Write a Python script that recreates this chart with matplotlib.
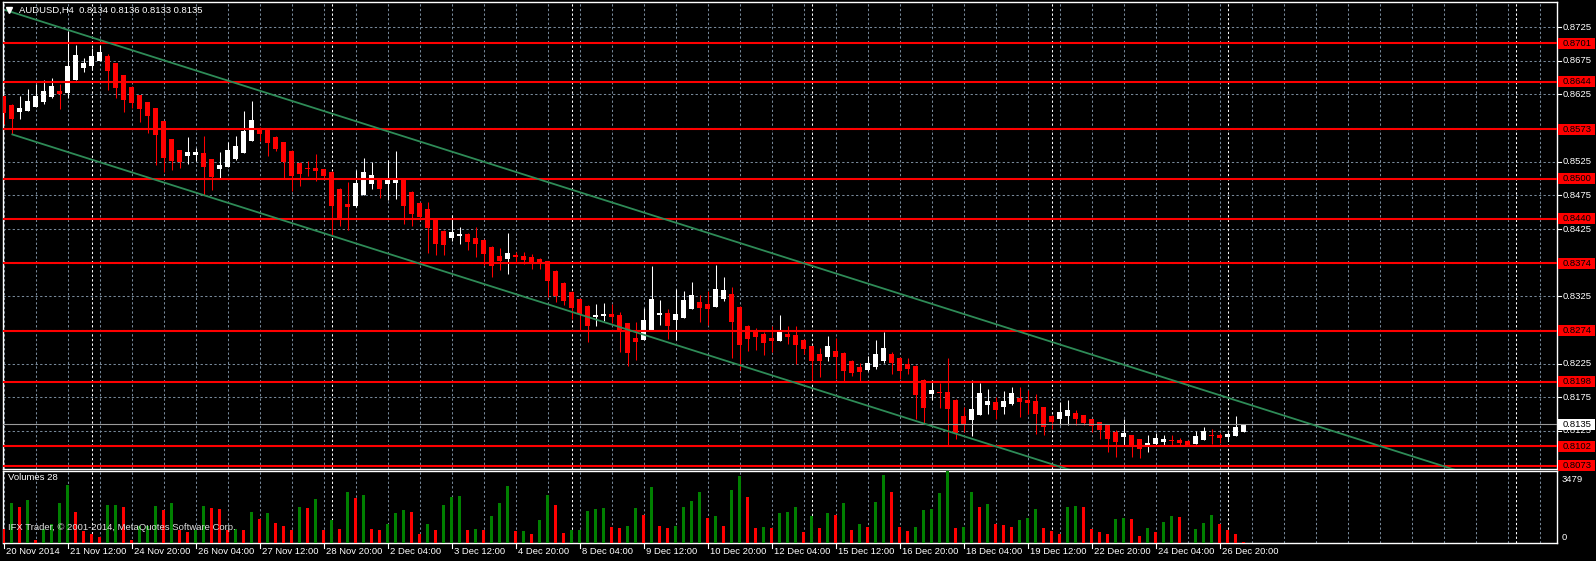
import numpy as np
import matplotlib
matplotlib.use("Agg")
import matplotlib.pyplot as plt
from matplotlib.patches import Rectangle

# ---------------- data ----------------
symbol = "AUDUSD,H4"
header_ohlc = ["0.8134", "0.8136", "0.8133", "0.8135"]

opens = [0.8622, 0.8610, 0.8599, 0.8601, 0.8607, 0.8614, 0.8621, 0.8630, 0.8627, 0.8647,
         0.8664, 0.8667, 0.8675, 0.8682, 0.8672, 0.8654, 0.8636, 0.8624, 0.8614, 0.8605,
         0.8586, 0.8559, 0.8543, 0.8534, 0.8535, 0.8538, 0.8529, 0.8515, 0.8517, 0.8529,
         0.8538, 0.8556, 0.8572, 0.8572, 0.8562, 0.8554, 0.8541, 0.8523, 0.8516, 0.8516,
         0.8514, 0.8510, 0.8485, 0.8462, 0.8459, 0.8476, 0.8492, 0.8498, 0.8492, 0.8494,
         0.8500, 0.8480, 0.8464, 0.8455, 0.8439, 0.8422, 0.8412, 0.8415, 0.8418, 0.8412,
         0.8409, 0.8399, 0.8385, 0.8381, 0.8387, 0.8385, 0.8384, 0.8381, 0.8378, 0.8363,
         0.8345, 0.8332, 0.8321, 0.8311, 0.8295, 0.8296, 0.8299, 0.8297, 0.8286, 0.8263,
         0.8260, 0.8275, 0.8297, 0.8300, 0.8290, 0.8293, 0.8306, 0.8317, 0.8314, 0.8309,
         0.8321, 0.8329, 0.8309, 0.8281, 0.8274, 0.8269, 0.8263, 0.8259, 0.8269, 0.8268,
         0.8260, 0.8251, 0.8240, 0.8235, 0.8244, 0.8241, 0.8229, 0.8220, 0.8216, 0.8220,
         0.8229, 0.8239, 0.8234, 0.8225, 0.8222, 0.8201, 0.8180, 0.8183, 0.8183, 0.8171,
         0.8147, 0.8142, 0.8149, 0.8164, 0.8168, 0.8160, 0.8165, 0.8174, 0.8171, 0.8170,
         0.8161, 0.8147, 0.8143, 0.8147, 0.8152, 0.8149, 0.8143, 0.8138, 0.8134, 0.8124,
         0.8116, 0.8119, 0.8113, 0.8104, 0.8106, 0.8109, 0.8112, 0.8112, 0.8110, 0.8106,
         0.8112, 0.8119, 0.8119, 0.8116, 0.8118, 0.8124]
closes = [0.8598, 0.8589, 0.8605, 0.8615, 0.8623, 0.8630, 0.8638, 0.8626, 0.8667, 0.8684,
          0.8672, 0.8682, 0.8688, 0.8660, 0.8635, 0.8617, 0.8612, 0.8604, 0.8593, 0.8565,
          0.8531, 0.8526, 0.8525, 0.8540, 0.8540, 0.8517, 0.8503, 0.8520, 0.8543, 0.8549,
          0.8571, 0.8587, 0.8566, 0.8553, 0.8544, 0.8525, 0.8504, 0.8507, 0.8514, 0.8511,
          0.8504, 0.8459, 0.8442, 0.8458, 0.8494, 0.8510, 0.8505, 0.8485, 0.8498, 0.8498,
          0.8459, 0.8448, 0.8443, 0.8427, 0.8403, 0.8402, 0.8421, 0.8418, 0.8406, 0.8403,
          0.8388, 0.8370, 0.8378, 0.8390, 0.8384, 0.8379, 0.8376, 0.8373, 0.8348, 0.8326,
          0.8318, 0.8308, 0.8299, 0.8281, 0.8297, 0.8299, 0.8295, 0.8275, 0.8241, 0.8257,
          0.8290, 0.8321, 0.8301, 0.8281, 0.8299, 0.8320, 0.8327, 0.8308, 0.8306, 0.8336,
          0.8335, 0.8287, 0.8253, 0.8262, 0.8265, 0.8256, 0.8259, 0.8275, 0.8265, 0.8253,
          0.8247, 0.8229, 0.8229, 0.8251, 0.8235, 0.8214, 0.8211, 0.8213, 0.8226, 0.8239,
          0.8248, 0.8226, 0.8214, 0.8217, 0.8179, 0.8159, 0.8186, 0.8182, 0.8158, 0.8122,
          0.8136, 0.8158, 0.8182, 0.8170, 0.8156, 0.8170, 0.8181, 0.8168, 0.8167, 0.8150,
          0.8131, 0.8138, 0.8153, 0.8156, 0.8143, 0.8137, 0.8132, 0.8127, 0.8113, 0.8109,
          0.8122, 0.8104, 0.8098, 0.8107, 0.8115, 0.8113, 0.8110, 0.8107, 0.8104, 0.8118,
          0.8125, 0.8118, 0.8115, 0.8120, 0.8131, 0.8135]
highs = [0.8623, 0.8611, 0.8623, 0.8633, 0.8641, 0.8647, 0.8650, 0.8641, 0.8719, 0.8699,
         0.8679, 0.8694, 0.8699, 0.8685, 0.8672, 0.8654, 0.8638, 0.8624, 0.8614, 0.8605,
         0.8586, 0.8559, 0.8543, 0.8562, 0.8546, 0.8564, 0.8529, 0.8540, 0.8555, 0.8564,
         0.8601, 0.8615, 0.8577, 0.8573, 0.8563, 0.8555, 0.8542, 0.8524, 0.8526, 0.8537,
         0.8515, 0.8511, 0.8486, 0.8495, 0.8513, 0.8531, 0.8525, 0.8499, 0.8528, 0.8541,
         0.8501, 0.8481, 0.8465, 0.8465, 0.8440, 0.8423, 0.8446, 0.8428, 0.8419, 0.8428,
         0.8410, 0.8400, 0.8397, 0.8419, 0.8391, 0.8391, 0.8388, 0.8382, 0.8378, 0.8364,
         0.8346, 0.8333, 0.8322, 0.8312, 0.8314, 0.8315, 0.8314, 0.8302, 0.8286, 0.8287,
         0.8308, 0.8370, 0.8320, 0.8306, 0.8336, 0.8333, 0.8346, 0.8327, 0.8333, 0.8372,
         0.8354, 0.8339, 0.8310, 0.8282, 0.8278, 0.8272, 0.8281, 0.8297, 0.8281, 0.8281,
         0.8261, 0.8252, 0.8248, 0.8266, 0.8263, 0.8242, 0.8230, 0.8226, 0.8237, 0.8260,
         0.8272, 0.8242, 0.8235, 0.8234, 0.8223, 0.8202, 0.8201, 0.8196, 0.8234, 0.8172,
         0.8161, 0.8201, 0.8196, 0.8188, 0.8176, 0.8185, 0.8190, 0.8190, 0.8186, 0.8180,
         0.8161, 0.8148, 0.8168, 0.8171, 0.8156, 0.8149, 0.8143, 0.8139, 0.8134, 0.8127,
         0.8143, 0.8119, 0.8113, 0.8119, 0.8122, 0.8119, 0.8119, 0.8115, 0.8111, 0.8125,
         0.8131, 0.8128, 0.8122, 0.8123, 0.8147, 0.8136]
lows = [0.8581, 0.8567, 0.8589, 0.8600, 0.8606, 0.8611, 0.8620, 0.8604, 0.8620, 0.8646,
        0.8658, 0.8661, 0.8674, 0.8632, 0.8620, 0.8599, 0.8605, 0.8584, 0.8568, 0.8520,
        0.8510, 0.8513, 0.8516, 0.8522, 0.8526, 0.8476, 0.8483, 0.8501, 0.8517, 0.8528,
        0.8538, 0.8556, 0.8556, 0.8534, 0.8541, 0.8501, 0.8482, 0.8489, 0.8504, 0.8497,
        0.8501, 0.8416, 0.8430, 0.8424, 0.8458, 0.8475, 0.8485, 0.8471, 0.8468, 0.8470,
        0.8433, 0.8430, 0.8439, 0.8390, 0.8387, 0.8387, 0.8407, 0.8403, 0.8394, 0.8384,
        0.8372, 0.8354, 0.8364, 0.8358, 0.8376, 0.8373, 0.8366, 0.8366, 0.8324, 0.8317,
        0.8312, 0.8292, 0.8275, 0.8257, 0.8281, 0.8289, 0.8286, 0.8243, 0.8222, 0.8231,
        0.8260, 0.8275, 0.8283, 0.8262, 0.8260, 0.8293, 0.8306, 0.8287, 0.8283, 0.8309,
        0.8318, 0.8234, 0.8216, 0.8244, 0.8245, 0.8238, 0.8243, 0.8259, 0.8254, 0.8225,
        0.8240, 0.8201, 0.8205, 0.8229, 0.8202, 0.8199, 0.8206, 0.8199, 0.8214, 0.8217,
        0.8226, 0.8210, 0.8202, 0.8210, 0.8143, 0.8136, 0.8171, 0.8159, 0.8104, 0.8113,
        0.8124, 0.8118, 0.8149, 0.8150, 0.8143, 0.8150, 0.8164, 0.8146, 0.8150, 0.8121,
        0.8119, 0.8128, 0.8134, 0.8134, 0.8134, 0.8134, 0.8124, 0.8113, 0.8094, 0.8086,
        0.8104, 0.8086, 0.8085, 0.8094, 0.8103, 0.8103, 0.8104, 0.8104, 0.8103, 0.8105,
        0.8111, 0.8106, 0.8107, 0.8110, 0.8117, 0.8124]
volumes = [699, 1918, 1723, 2081, 163, 699, 910, 1918, 2813, 1496,
           600, 450, 300, 1837, 1850, 1723, 130, 813, 830, 1789,
           1593, 1918, 618, 537, 650, 1789, 1691, 1626, 650, 660,
           640, 1496, 1138, 1431, 943, 845, 618, 1723, 1700, 2114,
           650, 1106, 699, 2472, 2195, 2325, 699, 650, 910, 1463,
           1593, 1496, 423, 910, 650, 1837, 2244, 2276, 650, 660,
           618, 1301, 1918, 2764, 569, 585, 423, 1106, 2325, 1837,
           504, 618, 650, 1528, 1626, 1675, 797, 748, 845, 1675,
           1333, 2699, 845, 748, 845, 1723, 2016, 2455, 1187, 1284,
           845, 2553, 3250, 2211, 748, 797, 748, 1431, 1480, 1723,
           553, 1284, 748, 1431, 1333, 1918, 650, 894, 797, 1967,
           3300, 2455, 797, 602, 797, 1577, 1626, 2406, 3479, 748,
           797, 2455, 1723, 1870, 900, 850, 780, 1089, 1187, 1626,
           748, 602, 455, 1723, 1772, 1723, 699, 553, 455, 1138,
           1187, 1138, 358, 748, 553, 992, 1284, 1236, 16, 699,
           943, 1333, 894, 650, 455, 28]
volume_title = "Volumes 28"
volume_max = 3479
copyright_text = "IFX Trader, \u00a9 2001-2014, MetaQuotes Software Corp."

levels = [0.8701, 0.8644, 0.8573, 0.8500, 0.8440, 0.8374, 0.8274, 0.8198, 0.8102, 0.8073]
current_price = 0.8135
price_ticks = [0.8075, 0.8125, 0.8175, 0.8225, 0.8275, 0.8325, 0.8375, 0.8425,
               0.8475, 0.8525, 0.8575, 0.8625, 0.8675, 0.8725]

time_labels = ["20 Nov 2014", "21 Nov 12:00", "24 Nov 20:00", "26 Nov 04:00", "27 Nov 12:00",
               "28 Nov 20:00", "2 Dec 04:00", "3 Dec 12:00", "4 Dec 20:00", "8 Dec 04:00",
               "9 Dec 12:00", "10 Dec 20:00", "12 Dec 04:00", "15 Dec 12:00", "16 Dec 20:00",
               "18 Dec 04:00", "19 Dec 12:00", "22 Dec 20:00", "24 Dec 04:00", "26 Dec 20:00"]
time_label_bars = [0, 8, 16, 24, 32, 40, 48, 56, 64, 72, 80, 88, 96, 104, 112, 120, 128, 136, 144, 152]
week_separator_bars = [11, 41, 71, 101, 131, 153, 189]

# equidistant channel (anchor bar, price) + slope per bar
channel_upper_anchor = (0.19, 0.87506)
channel_lower_anchor = (1.0, 0.85660)
channel_slope = -0.000377

# ---------------- layout ----------------
W, H, DPI = 1596, 561, 100
PX_LEFT, PX_RIGHT = 3, 1557
MAIN_TOP, MAIN_BOT = 2, 469
VOL_TOP, VOL_BOT = 471, 543
BAR_PX = 8.0
FIRST_BAR_PX = 3.5
PRICE_TOP, PRICE_BOT = 0.87624, 0.80685

GRID_C = "#778899"
RED = "#ff0000"
GREEN_VOL = "#008000"
CHAN_C = "#2e8b57"
FONT = "Liberation Sans"
FS = 6.8

fig = plt.figure(figsize=(W / DPI, H / DPI), dpi=DPI, facecolor="black")


def fx(px):
    return px / W


def fy(py):
    return 1 - py / H


def add_ax(top, bot):
    ax = fig.add_axes([fx(PX_LEFT), fy(bot), (PX_RIGHT - PX_LEFT) / W, (bot - top) / H])
    ax.set_facecolor("black")
    ax.set_xlim((PX_LEFT - FIRST_BAR_PX) / BAR_PX, (PX_RIGHT - FIRST_BAR_PX) / BAR_PX)
    ax.set_xticks([])
    ax.set_yticks([])
    for s in ax.spines.values():
        s.set_color("white")
        s.set_linewidth(1.0)
    return ax


ax = add_ax(MAIN_TOP, MAIN_BOT)
axv = add_ax(VOL_TOP, VOL_BOT)
ax.set_ylim(PRICE_BOT, PRICE_TOP)
axv.set_ylim(0, volume_max)

n = len(opens)
x = np.arange(n)
o = np.array(opens); c = np.array(closes); h = np.array(highs); l = np.array(lows)
v = np.array(volumes)

dash = (0, (2.2, 2.2))
xmax_bar = (PX_RIGHT - FIRST_BAR_PX) / BAR_PX
grid_bars = np.arange(0, xmax_bar, 4)
for a in (ax, axv):
    for gb in grid_bars:
        if gb in week_separator_bars:
            continue
        a.axvline(gb, color=GRID_C, lw=0.75, linestyle=dash, zorder=1)
    for sb in week_separator_bars:
        a.axvline(sb, color="white", lw=0.75, linestyle=dash, zorder=1.5)
for pt in price_ticks:
    ax.axhline(pt, color=GRID_C, lw=0.75, linestyle=dash, zorder=1)
axv.axhline(0, color=GRID_C, lw=0.75, linestyle=dash, zorder=1)

# candles
bull = c > o
col = np.where(bull, "white", RED)
ax.vlines(x, l, h, colors=col, lw=0.75, zorder=3)
body_bot = np.minimum(o, c)
body_h = np.maximum(np.abs(c - o), 0.00016)
ax.bar(x, body_h, bottom=body_bot, width=0.62, color=col, linewidth=0, zorder=3.1)

# volumes: green when greater than previous bar
vcol = [RED] + [GREEN_VOL if v[i] > v[i - 1] else RED for i in range(1, n)]
axv.bar(x, v, width=0.4, color=vcol, linewidth=0, zorder=3)

# horizontal levels and channel
for lv in levels:
    ax.axhline(lv, color=RED, lw=1.5, zorder=4)
ax.axhline(current_price, color="#9a9a9a", lw=0.8, zorder=3.5)
for (x0, p0) in (channel_upper_anchor, channel_lower_anchor):
    xs = np.array([x0, xmax_bar + 5])
    ax.plot(xs, p0 + channel_slope * (xs - x0), color=CHAN_C, lw=1.3, zorder=4.2,
            solid_capstyle="butt")

fig.canvas.draw()


def price_to_py(p):
    yd = ax.transData.transform((0, p))[1]
    return H - yd


# right price scale
for pt in price_ticks:
    py = price_to_py(pt)
    fig.add_artist(plt.Line2D([fx(PX_RIGHT), fx(PX_RIGHT + 4)], [fy(py), fy(py)],
                              color="white", lw=0.8))
    fig.text(fx(1563), fy(py), f"{pt:.4f}", color="white", fontsize=FS, family=FONT,
             va="center", ha="left")

for lv, fc in [(l_, RED) for l_ in levels] + [(current_price, "white")]:
    py = price_to_py(lv)
    fig.add_artist(Rectangle((fx(1558), fy(py + 5.5)), 36.5 / W, 11 / H, facecolor=fc,
                             edgecolor="none", transform=fig.transFigure, zorder=5))
    fig.text(fx(1563), fy(py), f"{lv:.4f}", color="black", fontsize=FS, family=FONT,
             va="center", ha="left", zorder=6)

# volume scale
fig.text(fx(1562), fy(479), str(volume_max), color="white", fontsize=FS, family=FONT,
         va="center", ha="left")
fig.text(fx(1562), fy(537), "0", color="white", fontsize=FS, family=FONT,
         va="center", ha="left")

# time axis
for b, lab in zip(time_label_bars, time_labels):
    px = FIRST_BAR_PX + b * BAR_PX
    fig.add_artist(plt.Line2D([fx(px), fx(px)], [fy(VOL_BOT), fy(VOL_BOT + 5)],
                              color="white", lw=0.8))
    fig.text(fx(px + 3), fy(552), lab, color="white", fontsize=FS, family=FONT,
             va="center", ha="left")

# header & captions
fig.add_artist(plt.Line2D([fx(8.5)], [fy(10)], marker="v", markersize=4.5,
                          color="white", linestyle="none"))
fig.text(fx(19), fy(10), symbol + "  " + " ".join(header_ohlc), color="white",
         fontsize=FS, family=FONT, va="center", ha="left")
fig.text(fx(8), fy(478), volume_title, color="white", fontsize=FS, family=FONT,
         va="center", ha="left", zorder=6)
fig.text(fx(8), fy(527), copyright_text, color="#e0e0e0", fontsize=FS, family=FONT,
         va="center", ha="left", zorder=6)

fig.savefig("out.png", dpi=DPI, facecolor="black")
